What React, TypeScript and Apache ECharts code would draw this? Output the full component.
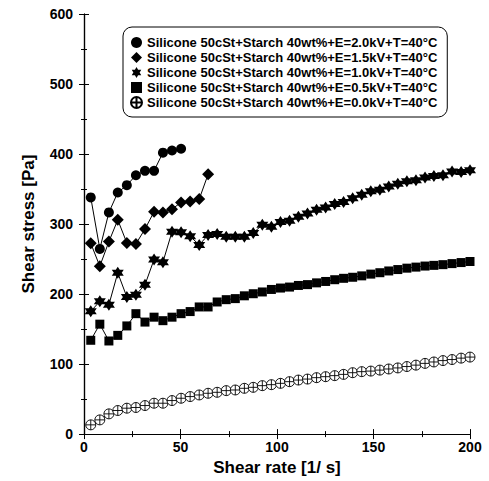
import React, { useEffect, useRef } from "react";
import * as echarts from "echarts";

const shearRate = [
  3.5, 8.2, 12.9, 17.5, 22.2, 26.9, 31.6, 36.3, 40.9, 45.6, 50.3, 55.0, 59.7,
  64.3, 69.0, 73.7, 78.4, 83.1, 87.7, 92.4, 97.1, 101.8, 106.5, 111.1, 115.8,
  120.5, 125.2, 129.9, 134.5, 139.2, 143.9, 148.6, 153.3, 157.9, 162.6, 167.3,
  172.0, 176.7, 181.3, 186.0, 190.7, 195.4, 200.0,
];

const e20 = [338, 264.5, 316.6, 345, 355.5, 369.7, 376, 376, 402, 405, 407.6];
const e15 = [272.5, 239.8, 274.9, 306, 273, 271.6, 292.9, 317.5, 316.6, 321.3, 330.9, 332.3, 335.6, 371];
const e10 = [
  175.3, 189.6, 184.8, 230.3, 195.8, 199, 213.3, 249.3, 245.6, 289, 288.2,
  282.5, 270.2, 284.4, 285.8, 281.9, 281.9, 281.9, 287.2, 299, 296, 303,
  304.7, 310.4, 315.2, 320.4, 323.7, 328.5, 331.5, 337, 342, 347, 349, 353.6,
  357.5, 361, 362.6, 366.4, 368.7, 369.7, 374.9, 374.4, 376.8,
];
const e05 = [
  134, 157, 133, 141, 154.5, 172, 160, 167, 162, 167, 172, 175, 181.6, 181.6,
  188.7, 192, 193.5, 197.5, 200.5, 203, 206.6, 208.6, 210, 212.3, 213.5, 216,
  218, 220.5, 222.5, 224, 226, 228.5, 230.5, 233, 235, 237, 238.5, 240, 241,
  242, 243.5, 245, 246.5,
];
const e00 = [
  13.2, 20.3, 28.9, 33.7, 37, 38, 40.8, 44.1, 44.1, 47.9, 51.2, 53.6, 55.9,
  58.3, 59.7, 62.1, 63, 65.4, 66.8, 69.2, 70.6, 72.5, 74.9, 77.2, 78.6, 80.6,
  82, 83.5, 85.3, 87.7, 89.2, 90, 91.4, 93, 94.5, 96.5, 98.5, 101, 103, 105,
  106.5, 108.5, 110,
];

const seriesNames = [
  "Silicone 50cSt+Starch 40wt%+E=2.0kV+T=40°C",
  "Silicone 50cSt+Starch 40wt%+E=1.5kV+T=40°C",
  "Silicone 50cSt+Starch 40wt%+E=1.0kV+T=40°C",
  "Silicone 50cSt+Starch 40wt%+E=0.5kV+T=40°C",
  "Silicone 50cSt+Starch 40wt%+E=0.0kV+T=40°C",
];

const yTicks = [0, 100, 200, 300, 400, 500, 600];
const xTicks = [0, 50, 100, 150, 200];

const STAR = "path://M0,-1L0.866,0.5L-0.866,0.5ZM0,1L-0.866,-0.5L0.866,-0.5Z";
const CROSS_CIRCLE =
  "path://M10,0A10,10,0,1,1,10,20A10,10,0,1,1,10,0ZM10,0L10,20M0,10L20,10";

const FONT = "'Liberation Sans', Arial, sans-serif";

export default function App() {
  const ref = useRef<HTMLDivElement>(null);
  useEffect(() => {
    if (!ref.current) return;
    const chart = echarts.init(ref.current, undefined, { renderer: "svg" });
    const pairs = (vals: number[]) => vals.map((v, i) => [shearRate[i], v]);
    const symbols = ["circle", "diamond", STAR, "rect", CROSS_CIRCLE];
    const sizes = [10, 12, 12, 9, 10];
    const datasets = [e20, e15, e10, e05, e00];
    const axisCommon = {
      axisLine: { show: true, lineStyle: { color: "#000", width: 1.2 } },
      axisTick: { show: true, inside: true, length: 5, lineStyle: { color: "#000" } },
      minorTick: { show: true, splitNumber: 2, length: 3, lineStyle: { color: "#000" } },
      splitLine: { show: false },
    };
    chart.setOption({
      animation: false,
      backgroundColor: "#fff",
      grid: { left: 84, right: 19, top: 14, bottom: 45, containLabel: false },
      legend: {
        orient: "vertical",
        left: 123,
        top: 27,
        itemGap: 2,
        itemWidth: 11,
        itemHeight: 11,
        padding: [9, 10, 8, 7],
        borderColor: "#000",
        borderWidth: 1,
        borderRadius: 9,
        textStyle: { fontFamily: FONT, fontWeight: "bold", fontSize: 13, color: "#000" },
        data: seriesNames.map((n, i) => ({ name: n, icon: symbols[i] })),
      },
      xAxis: [
        {
          type: "value",
          min: 0,
          max: 200,
          interval: 50,
          ...axisCommon,
          name: "Shear rate [1/ s]",
          nameLocation: "middle",
          nameGap: 16,
          nameTextStyle: { fontFamily: FONT, fontWeight: "bold", fontSize: 17, color: "#000" },
          axisLabel: {
            margin: 6,
            fontFamily: FONT,
            fontWeight: "bold",
            fontSize: 14,
            color: "#000",
            formatter: (v: number) => (xTicks.includes(v) ? String(v) : ""),
          },
        },
        {
          type: "value",
          position: "top",
          min: 0,
          max: 200,
          interval: 50,
          ...axisCommon,
          axisLabel: { show: false },
        },
      ],
      yAxis: [
        {
          type: "value",
          min: 0,
          max: 600,
          interval: 100,
          ...axisCommon,
          name: "Shear stress [Pa]",
          nameLocation: "middle",
          nameGap: 47,
          nameTextStyle: { fontFamily: FONT, fontWeight: "bold", fontSize: 17, color: "#000" },
          axisLabel: {
            margin: 11,
            fontFamily: FONT,
            fontWeight: "bold",
            fontSize: 14,
            color: "#000",
            formatter: (v: number) => (yTicks.includes(v) ? String(v) : ""),
          },
        },
        {
          type: "value",
          position: "right",
          min: 0,
          max: 600,
          interval: 100,
          ...axisCommon,
          axisLabel: { show: false },
        },
      ],
      series: datasets.map((vals, i) => ({
        name: seriesNames[i],
        type: "line",
        data: pairs(vals),
        symbol: symbols[i],
        symbolSize: sizes[i],
        showAllSymbol: true,
        lineStyle: { color: "#000", width: i === 4 ? 1.3 : 1 },
        itemStyle:
          i === 4
            ? { color: "#fff", borderColor: "#000", borderWidth: 0.9 }
            : { color: "#000" },
        emphasis: { disabled: true },
      })),
    });
    return () => chart.dispose();
  }, []);
  return (
    <div
      ref={ref}
      style={{ position: "absolute", left: 0, top: 0, width: 489, height: 481 }}
    />
  );
}
